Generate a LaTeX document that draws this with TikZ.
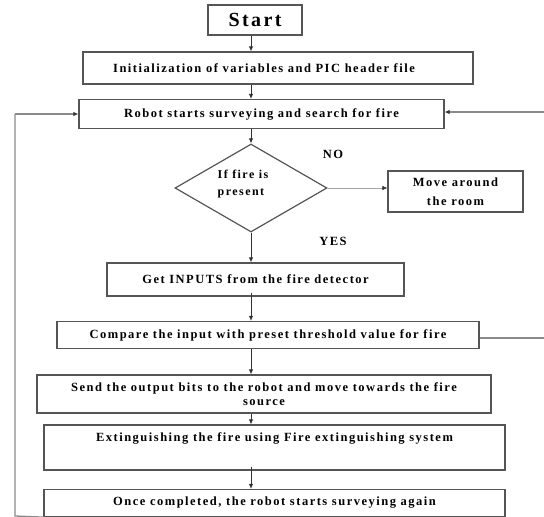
\documentclass[tikz,border=0pt]{standalone}
\usepackage{fontspec}
\setmainfont[LetterSpace=12]{Liberation Serif}
\usetikzlibrary{shapes.geometric,arrows.meta}
\definecolor{boxc}{HTML}{555555}
\definecolor{loopc}{HTML}{8A8A8A}
\definecolor{arrc}{HTML}{333333}
\tikzset{
  flowbox/.style={draw=boxc, line width=1.2pt, inner sep=0pt, font=\fontsize{12.5}{14.5}\selectfont\bfseries, align=center},
  txt/.style={inner sep=0pt, font=\fontsize{12.5}{14.5}\selectfont\bfseries},
  tip/.style={-{Latex[length=5pt,width=4.5pt,fill=arrc,color=arrc]}},
  arr/.style={draw=arrc, line width=0.9pt, tip},
  loopline/.style={draw=loopc, line width=1.3pt},
}
\begin{document}
\begin{tikzpicture}[x=1pt,y=-1pt]
\useasboundingbox (0,0) rectangle (544,517);
\node[flowbox, minimum width=94, minimum height=30, font=\fontsize{20}{24}\selectfont\bfseries] (start) at (255,20) {Start};
\node[flowbox, minimum width=390, minimum height=32] (init) at (278,68) {Initialization of variables and PIC header file\hspace*{28pt}};
\node[flowbox, minimum width=365, minimum height=29] (robot) at (261.5,114) {Robot starts surveying and search for fire};
\node[draw=boxc, line width=1.2pt, diamond, minimum width=152, minimum height=88, inner sep=0pt] (dia) at (251,188) {};
\node[txt, align=left, font=\fontsize{12}{17.5}\selectfont\bfseries] (diatext) at (243,184) {If fire is\\present};
\node[flowbox, minimum width=135, minimum height=41, font=\fontsize{12.5}{18.5}\selectfont\bfseries] (move) at (455.5,191.5) {Move around\\the room};
\node[flowbox, minimum width=297, minimum height=33] (get) at (255.5,279.5) {Get INPUTS from the fire detector};
\node[flowbox, minimum width=422, minimum height=27] (compare) at (268,335) {Compare the input with preset threshold value for fire};
\node[flowbox, minimum width=454, minimum height=38] (send) at (264,394) {Send the output bits to the robot and move towards the fire\\source};
\node[flowbox, minimum width=461, minimum height=45] (ext) at (274.5,447.5) {};
\node[txt] (exttext) at (274.5,438) {Extinguishing the fire using Fire extinguishing system};
\node[flowbox, minimum width=461, minimum height=27] (once) at (274.5,503) {Once completed, the robot starts surveying again};
\node[txt, font=\fontsize{12.5}{14}\selectfont\bfseries] (no) at (333,154) {NO};
\node[txt, font=\fontsize{12.5}{14}\selectfont\bfseries] (yes) at (333,241) {YES};
% vertical arrows
\draw[arr] (start.south -| dia.north) -- (init.north -| dia.north);
\draw[arr] (init.south -| dia.north) -- (robot.north -| dia.north);
\draw[arr] (robot.south -| dia.north) -- (dia.north);
\draw[arr] (dia.south) -- (get.north -| dia.south);
\draw[arr] ([yshift=4pt]get.south -| dia.south) -- (compare.north -| dia.south);
\draw[arr] (compare.south -| dia.south) -- (send.north -| dia.south);
\draw[arr] (send.south -| dia.south) -- (ext.north -| dia.south);
\draw[arr] ([yshift=4pt]ext.south -| dia.south) -- (once.north -| dia.south);
% no branch
\draw[draw=gray!70, line width=0.6pt, tip] (dia.east) -- (move.west |- dia.east);
% loops
\coordinate (bl) at (15,516);
\coordinate (rr) at (544,112);
\coordinate (cr) at (544,338);
\draw[loopline] (once.south west) -- (bl) -- (bl |- robot.west);
\draw[loopline, tip] (bl |- robot.west) -- (robot.west);
\draw[loopline, tip] (rr) -- (robot.east |- rr);
\draw[loopline] (compare.east |- cr) -- (cr);
\end{tikzpicture}
\end{document}
